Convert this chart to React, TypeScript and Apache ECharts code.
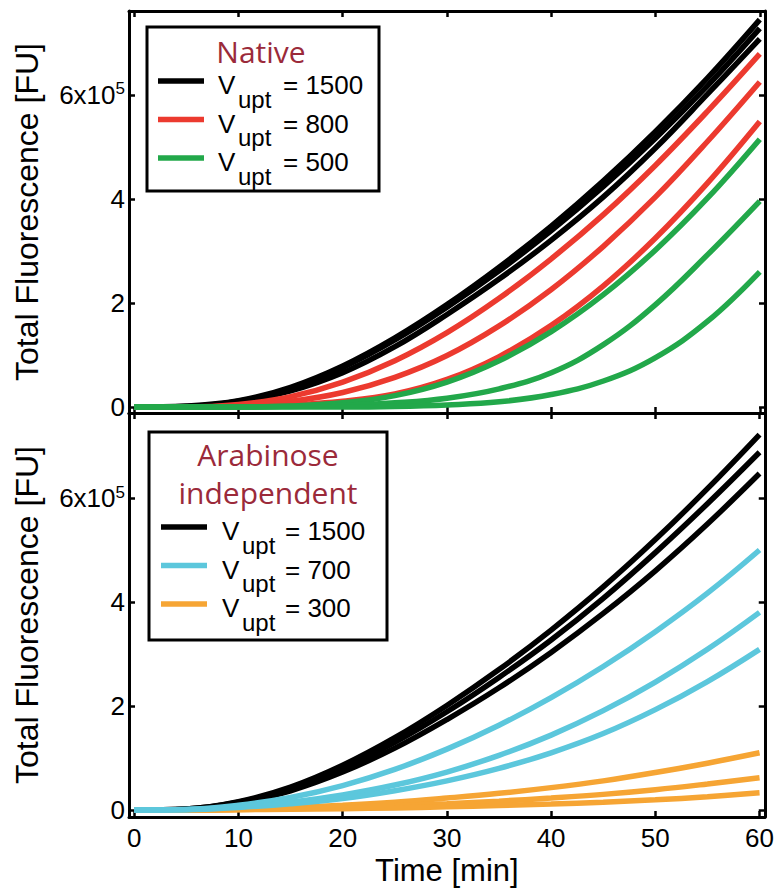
import React, { useEffect, useRef } from 'react';
import * as echarts from 'echarts';

// ---- data ----
const TIME = [0, 5, 10, 15, 20, 25, 30, 35, 40, 45, 50, 55, 60];
const X_TICKS = [0, 10, 20, 30, 40, 50, 60];
const Y_TICKS = [0, 200000, 400000, 600000];

// Native panel
const NATIVE_1500_A = [0, 2000, 12000, 38000, 79000, 133000, 197000, 269000, 348000, 435000, 530000, 633000, 745000];
const NATIVE_1500_B = [0, 1000, 11000, 36000, 76000, 129000, 192000, 262000, 339000, 424000, 517000, 618000, 728000];
const NATIVE_1500_C = [0, 500, 10000, 31000, 66000, 116000, 178000, 246000, 321000, 404000, 498000, 602000, 708000];
const NATIVE_800_A = [0, 0, 5000, 20000, 48000, 89000, 143000, 209000, 285000, 370000, 465000, 569000, 679000];
const NATIVE_800_B = [0, 0, 3000, 11000, 28000, 57000, 99000, 156000, 226000, 309000, 404000, 511000, 625000];
const NATIVE_800_C = [0, 0, 1000, 4000, 11000, 25000, 53000, 97000, 157000, 233000, 325000, 431000, 549000];
const NATIVE_500_A = [0, 0, 0, 2000, 8000, 22000, 48000, 89000, 145000, 216000, 302000, 402000, 515000];
const NATIVE_500_B = [0, 0, 0, 1000, 3000, 8000, 17000, 35000, 66000, 120000, 197000, 293000, 396000];
const NATIVE_500_C = [0, 0, 0, 0, 0, 1000, 4000, 10000, 24000, 50000, 95000, 165000, 260000];

// Arabinose independent panel
const ARA_1500_A = [0, 2000, 16000, 44000, 86000, 139000, 201000, 270000, 346000, 429000, 520000, 618000, 722000];
const ARA_1500_B = [0, 2000, 15000, 41000, 80000, 130000, 189000, 255000, 327000, 407000, 495000, 589000, 688000];
const ARA_1500_C = [0, 1000, 13000, 37000, 73000, 119000, 174000, 235000, 303000, 378000, 460000, 550000, 647000];
const ARA_700_A = [0, 1000, 9000, 24000, 47000, 78000, 117000, 163000, 216000, 276000, 343000, 417000, 500000];
const ARA_700_B = [0, 1000, 6000, 15000, 29000, 48000, 73000, 105000, 144000, 191000, 246000, 309000, 380000];
const ARA_700_C = [0, 500, 5000, 12000, 22000, 37000, 56000, 80000, 110000, 147000, 193000, 247000, 309000];
const ARA_300_A = [0, 0, 1500, 4500, 9000, 15000, 23000, 32000, 43000, 56000, 72000, 90000, 110000];
const ARA_300_B = [0, 0, 1000, 2500, 5000, 8000, 12000, 17000, 23000, 30000, 39000, 50000, 62000];
const ARA_300_C = [0, 0, 500, 1300, 2500, 4000, 6000, 8500, 11500, 15000, 19500, 25500, 33000];

const TOP_TITLE = ['Native'];
const BOTTOM_TITLE = ['Arabinose', 'independent'];
const TOP_LEGEND = ['1500', '800', '500'];
const BOTTOM_LEGEND = ['1500', '700', '300'];

const BLACK = '#000000';
const RED = '#ec3a2f';
const GREEN = '#22a84a';
const CYAN = '#5cc7dc';
const ORANGE = '#f6a534';
const TITLE_COLOR = '#9b2a3a';

const FONT = '"Liberation Sans", Arial, Helvetica, sans-serif';
const TITLE_FONT = '"Open Sans", "Noto Sans", sans-serif';

export default function App() {
  const ref = useRef<HTMLDivElement>(null);

  useEffect(() => {
    const chart = echarts.init(ref.current!, null, { renderer: 'svg' });

    const line = (vals: number[], color: string, panel: number, z: number) => ({
      type: 'line',
      xAxisIndex: panel * 2,
      yAxisIndex: panel * 2,
      data: TIME.map((t, i) => [t, vals[i]]),
      showSymbol: false,
      smooth: 0.4,
      silent: true,
      z,
      lineStyle: { color, width: 5.5 },
      itemStyle: { color },
    });

    const tick = { inside: true, length: 6, lineStyle: { color: '#000', width: 2.5 } };
    const axLine = { show: true, onZero: false, lineStyle: { color: '#000', width: 3 } };

    const xAx = (grid: number, position: string, labels: boolean) => ({
      type: 'value',
      gridIndex: grid,
      position,
      min: -0.5,
      max: 60.5,
      axisLine: axLine,
      axisTick: { ...tick, customValues: X_TICKS },
      splitLine: { show: false },
      axisLabel: {
        show: labels,
        customValues: X_TICKS,
        fontFamily: FONT,
        fontSize: 26,
        lineHeight: 26,
        color: '#000',
        margin: 8,
      },
      name: labels ? 'Time [min]' : '',
      nameLocation: 'middle',
      nameGap: 38,
      nameTextStyle: { fontFamily: FONT, fontSize: 31, lineHeight: 31, color: '#000' },
    });

    const yAx = (grid: number, position: string, labels: boolean, min: number, max: number) => ({
      type: 'value',
      gridIndex: grid,
      position,
      min,
      max,
      axisLine: axLine,
      axisTick: { ...tick, customValues: Y_TICKS },
      splitLine: { show: false },
      axisLabel: {
        show: labels,
        customValues: Y_TICKS,
        margin: 4,
        fontFamily: FONT,
        fontSize: 26,
        color: '#000',
        formatter: (v: number) => (v === 600000 ? '6x10{sup|5}' : String(v / 100000)),
        rich: {
          sup: { fontFamily: FONT, fontSize: 17, color: '#000', verticalAlign: 'top', padding: [0, 0, 12, 0] },
        },
      },
      name: labels ? 'Total Fluorescence [FU]' : '',
      nameLocation: 'middle',
      nameGap: 86,
      nameTextStyle: { fontFamily: FONT, fontSize: 32, color: '#000' },
    });

    const legend = (
      box: { x: number; y: number; w: number; h: number },
      titles: string[],
      titleX: number,
      titleY0: number,
      labels: string[],
      colors: string[],
      rowY0: number,
      lineX: number,
      vX: number,
      eqX: number,
    ) => {
      const els: any[] = [
        {
          type: 'rect',
          shape: { x: box.x, y: box.y, width: box.w, height: box.h },
          style: { fill: '#fff', stroke: '#000', lineWidth: 3 },
          z: 100,
        },
      ];
      titles.forEach((t, i) => {
        els.push({
          type: 'text',
          x: titleX,
          y: titleY0 + i * 38,
          z: 101,
          style: {
            text: t,
            fontFamily: TITLE_FONT,
            fontSize: 30,
            lineHeight: 28,
            fill: TITLE_COLOR,
            align: 'center',
            verticalAlign: 'middle',
          },
        });
      });
      labels.forEach((lab, i) => {
        const y = rowY0 + i * 38.5;
        els.push({
          type: 'line',
          shape: { x1: lineX, y1: y, x2: lineX + 46, y2: y },
          style: { stroke: colors[i], lineWidth: 5.5 },
          z: 101,
        });
        els.push({
          type: 'text',
          x: vX,
          y: y + 4,
          z: 101,
          style: {
            text: 'V',
            fontFamily: FONT,
            fontSize: 26,
            lineHeight: 20,
            fill: '#000',
            align: 'left',
            verticalAlign: 'middle',
          },
        });
        els.push({
          type: 'text',
          x: vX + 20,
          y: y + 18,
          z: 101,
          style: {
            text: 'upt',
            fontFamily: FONT,
            fontSize: 24,
            lineHeight: 20,
            fill: '#000',
            align: 'left',
            verticalAlign: 'middle',
          },
        });
        els.push({
          type: 'text',
          x: eqX,
          y: y + 4,
          z: 101,
          style: {
            text: '= ' + lab,
            fontFamily: FONT,
            fontSize: 26,
            lineHeight: 20,
            fill: '#000',
            align: 'left',
            verticalAlign: 'middle',
          },
        });
      });
      return els;
    };

    chart.setOption({
      animation: false,
      backgroundColor: '#fff',
      grid: [
        { left: 129, top: 11, width: 636, height: 402 },
        { left: 129, top: 413, width: 636, height: 404 },
      ],
      xAxis: [xAx(0, 'bottom', false), xAx(0, 'top', false), xAx(1, 'bottom', true), xAx(1, 'top', false)],
      yAxis: [
        yAx(0, 'left', true, -11500, 761500),
        yAx(0, 'right', false, -11500, 761500),
        yAx(1, 'left', true, -13500, 763500),
        yAx(1, 'right', false, -13500, 763500),
      ],
      series: [
        line(NATIVE_1500_A, BLACK, 0, 2),
        line(NATIVE_1500_B, BLACK, 0, 2),
        line(NATIVE_1500_C, BLACK, 0, 2),
        line(NATIVE_800_A, RED, 0, 3),
        line(NATIVE_800_B, RED, 0, 3),
        line(NATIVE_800_C, RED, 0, 3),
        line(NATIVE_500_A, GREEN, 0, 4),
        line(NATIVE_500_B, GREEN, 0, 4),
        line(NATIVE_500_C, GREEN, 0, 4),
        line(ARA_1500_A, BLACK, 1, 2),
        line(ARA_1500_B, BLACK, 1, 2),
        line(ARA_1500_C, BLACK, 1, 2),
        line(ARA_300_A, ORANGE, 1, 3),
        line(ARA_300_B, ORANGE, 1, 3),
        line(ARA_300_C, ORANGE, 1, 3),
        line(ARA_700_A, CYAN, 1, 4),
        line(ARA_700_B, CYAN, 1, 4),
        line(ARA_700_C, CYAN, 1, 4),
      ],
      graphic: [
        ...legend({ x: 147, y: 27, w: 232, h: 164 }, TOP_TITLE, 261, 51, TOP_LEGEND, [BLACK, RED, GREEN], 81, 158, 218, 283),
        ...legend(
          { x: 149, y: 432, w: 238, h: 208 },
          BOTTOM_TITLE,
          268,
          454,
          BOTTOM_LEGEND,
          [BLACK, CYAN, ORANGE],
          527,
          161,
          222,
          285,
        ),
      ],
    });

    return () => chart.dispose();
  }, []);

  return (
    <div
      ref={ref}
      style={{ position: 'absolute', left: 0, top: 0, width: 777, height: 891, background: '#fff' }}
    />
  );
}
